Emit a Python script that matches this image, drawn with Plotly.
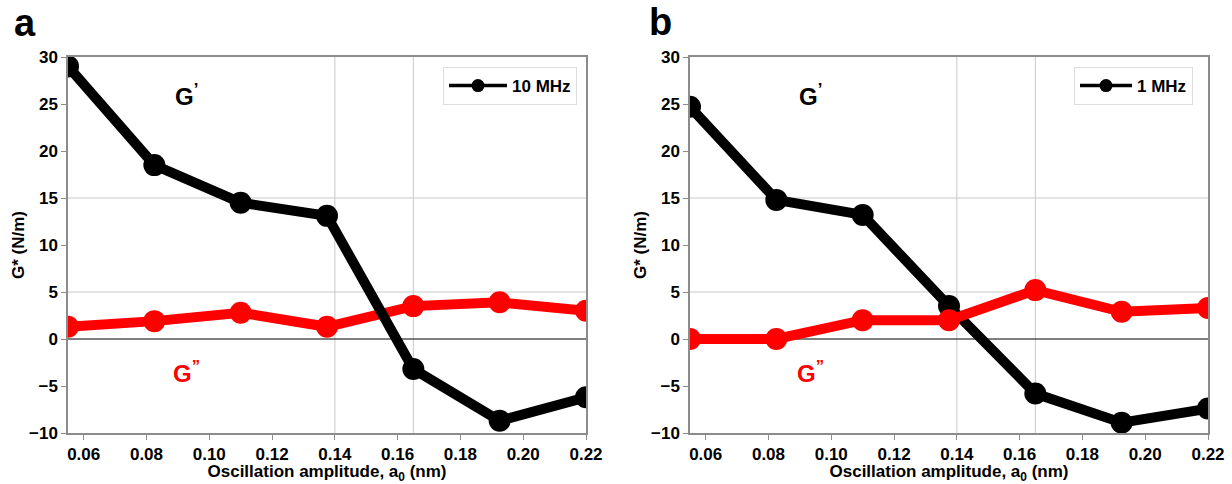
import plotly.graph_objects as go

W, H = 1232, 484

amplitude = [0.055, 0.0825, 0.11, 0.1375, 0.165, 0.1925, 0.22]
g1_10mhz = [29.0, 18.5, 14.5, 13.1, -3.2, -8.7, -6.2]
g2_10mhz = [1.3, 1.9, 2.8, 1.3, 3.5, 3.9, 3.0]
g1_1mhz = [24.7, 14.8, 13.2, 3.5, -5.8, -8.9, -7.4]
g2_1mhz = [0.0, 0.0, 2.0, 2.0, 5.2, 2.9, 3.3]

x_ticks = [0.06, 0.08, 0.10, 0.12, 0.14, 0.16, 0.18, 0.20, 0.22]
x_ticklabels = ["0.06", "0.08", "0.10", "0.12", "0.14", "0.16", "0.18", "0.20", "0.22"]
y_ticks = [-10, -5, 0, 5, 10, 15, 20, 25, 30]
y_ticklabels = ["\u221210", "\u22125", "0", "5", "10", "15", "20", "25", "30"]
x_grid = [0.14, 0.165]
y_grid = [5, 15]
x_range = [0.055, 0.22]
y_range = [-10, 30]
panel_names = ["10 MHz", "1 MHz"]

FONT = "Liberation Sans, Arial, sans-serif"

fig = go.Figure()

panels = [
    ("x", "y", g1_10mhz, g2_10mhz, panel_names[0], "legend", True),
    ("x2", "y2", g1_1mhz, g2_1mhz, panel_names[1], "legend2", False),
]

for xa, ya, g1, g2, name, leg, black_on_top in panels:
    red = go.Scatter(x=amplitude, y=g2, xaxis=xa, yaxis=ya, mode="lines+markers",
                     line=dict(color="#ff0000", width=10),
                     marker=dict(color="#ff0000", size=22), showlegend=False)
    black = go.Scatter(x=amplitude, y=g1, xaxis=xa, yaxis=ya, mode="lines+markers",
                       line=dict(color="black", width=10),
                       marker=dict(color="black", size=22), showlegend=False)
    if black_on_top:
        fig.add_trace(red)
        fig.add_trace(black)
    else:
        fig.add_trace(black)
        fig.add_trace(red)
    fig.add_trace(go.Scatter(x=[None], y=[None], xaxis=xa, yaxis=ya, mode="lines+markers",
                             line=dict(color="black", width=3.5),
                             marker=dict(color="black", size=13), name=name,
                             legend=leg, showlegend=True))

dom_y = [(H - 433) / H, (H - 57) / H]
dom_a = [68 / W, 586 / W]
dom_b = [690 / W, 1208 / W]

axis_common = dict(showline=True, mirror=True, linecolor="#8c8c8c", linewidth=1.5,
                   ticks="outside", ticklen=5, tickcolor="#8c8c8c", showgrid=False,
                   zeroline=False, automargin=False,
                   tickfont=dict(family=FONT, size=17, color="black", weight="bold"))

xtitle = dict(text="Oscillation amplitude, a<sub>0</sub> (nm)",
              font=dict(family=FONT, size=17, color="black", weight="bold"), standoff=2)
ytitle = dict(text="G* (N/m)", font=dict(family=FONT, size=17, color="black", weight="bold"),
              standoff=0)

legend_common = dict(yanchor="top", xanchor="right", y=(H - 67) / H,
                     bgcolor="white", bordercolor="#dddddd", borderwidth=1,
                     tracegroupgap=0,
                     font=dict(family=FONT, size=17, color="black", weight="bold"))

fig.update_layout(
    width=W, height=H, margin=dict(l=0, r=0, t=0, b=0, autoexpand=False),
    paper_bgcolor="white", plot_bgcolor="white",
    xaxis=dict(domain=dom_a, range=x_range, anchor="y", tickvals=x_ticks,
               ticktext=x_ticklabels, title=xtitle, **axis_common),
    yaxis=dict(domain=dom_y, range=y_range, anchor="x", tickvals=y_ticks,
               ticktext=y_ticklabels, title=ytitle, **axis_common),
    xaxis2=dict(domain=dom_b, range=x_range, anchor="y2", tickvals=x_ticks,
                ticktext=x_ticklabels, title=xtitle, **axis_common),
    yaxis2=dict(domain=dom_y, range=y_range, anchor="x2", tickvals=y_ticks,
                ticktext=y_ticklabels, title=ytitle, **axis_common),
    legend=dict(x=577 / W, itemwidth=58, **legend_common),
    legend2=dict(x=1193 / W, itemwidth=52, **legend_common),
)

shapes = []
for xr, yr in [("x", "y"), ("x2", "y2")]:
    for gx in x_grid:
        shapes.append(dict(type="line", xref=xr, yref=yr, x0=gx, x1=gx, y0=y_range[0],
                           y1=y_range[1], line=dict(color="#c8c8c8", width=1), layer="below"))
    for gy in y_grid:
        shapes.append(dict(type="line", xref=xr, yref=yr, x0=x_range[0], x1=x_range[1],
                           y0=gy, y1=gy, line=dict(color="#c8c8c8", width=1), layer="below"))
    shapes.append(dict(type="line", xref=xr, yref=yr, x0=x_range[0], x1=x_range[1],
                       y0=0, y1=0, line=dict(color="black", width=1), layer="below"))
fig.update_layout(shapes=shapes)


def label(text, px, py, size, color):
    return dict(text=text, x=px / W, y=(H - py) / H, xref="paper", yref="paper",
                xanchor="center", yanchor="middle", showarrow=False,
                font=dict(family=FONT, size=size, color=color, weight="bold"))


annos = [
    label("a", 25, 23, 38, "black"),
    label("b", 660, 22, 38, "black"),
    label("G<sup>\u2019</sup>", 186, 95, 24, "black"),
    label("G<sup>\u201d</sup>", 186, 372, 24, "#ff0000"),
    label("G<sup>\u2019</sup>", 810, 95, 24, "black"),
    label("G<sup>\u201d</sup>", 810, 372, 24, "#ff0000"),
]
fig.update_layout(annotations=annos)

fig.write_html("out.html")
